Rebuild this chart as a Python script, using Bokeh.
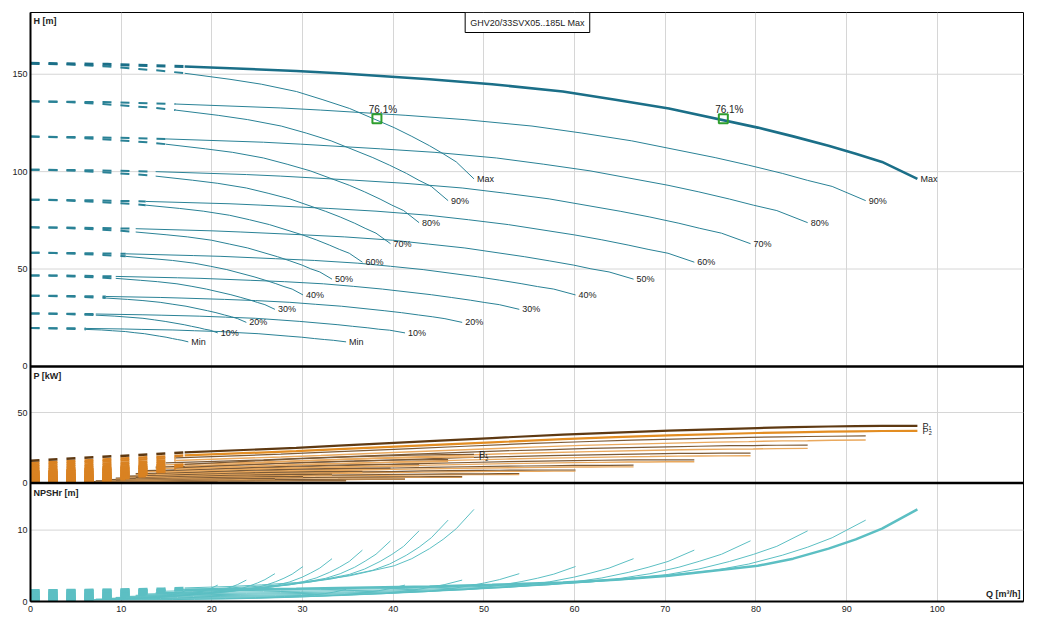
from bokeh.plotting import figure
from bokeh.models import (Range1d, FixedTicker, CustomJSTickFormatter, Span, Label,
                          ColumnDataSource)
from bokeh.core.properties import value
from bokeh.embed import file_html
from bokeh.resources import INLINE

# ---------------- data ----------------
LEVELS = ["Max", "90%", "80%", "70%", "60%", "50%", "40%", "30%", "20%", "10%", "Min"]
TITLE = "GHV20/33SVX05..185L Max"

# flow where the solid (allowed) part of each curve starts
Q_MIN = [17.0, 16.0, 14.9, 13.8, 12.7, 11.6, 10.5, 9.4, 8.3, 7.2, 6.1]

# flow points [m3/h], two pumps running
Q_TWO = [
    [0, 8.5, 17.0, 29.3, 34.0, 44.0, 50.9, 58.7, 64.5, 70.4, 80.2, 84.1, 88.0, 91.0, 93.9, 97.8],
    [0, 8.0, 16.0, 27.6, 32.0, 41.4, 47.9, 55.3, 60.8, 66.3, 75.5, 79.2, 82.9, 85.7, 88.4, 92.1],
    [0, 7.5, 14.9, 25.7, 29.8, 38.6, 44.6, 51.4, 56.6, 61.7, 70.3, 73.7, 77.1, 79.7, 82.3, 85.7],
    [0, 6.9, 13.8, 23.8, 27.6, 35.7, 41.3, 47.6, 52.4, 57.2, 65.1, 68.3, 71.5, 73.8, 76.2, 79.4],
    [0, 6.4, 12.7, 22.0, 25.4, 32.9, 38.1, 43.9, 48.3, 52.7, 60.0, 63.0, 65.9, 68.1, 70.3, 73.2],
    [0, 5.8, 11.6, 20.0, 23.2, 29.9, 34.6, 39.9, 43.9, 47.9, 54.5, 57.2, 59.9, 61.8, 63.8, 66.5],
    [0, 5.2, 10.5, 18.0, 21.0, 27.0, 31.3, 36.1, 39.7, 43.3, 49.3, 51.7, 54.1, 55.9, 57.7, 60.1],
    [0, 4.7, 9.4, 16.2, 18.8, 24.3, 28.0, 32.3, 35.6, 38.8, 44.2, 46.4, 48.5, 50.1, 51.7, 53.9],
    [0, 4.1, 8.3, 14.3, 16.6, 21.4, 24.8, 28.6, 31.4, 34.3, 39.0, 40.9, 42.8, 44.3, 45.7, 47.6],
    [0, 3.6, 7.2, 12.4, 14.4, 18.6, 21.5, 24.8, 27.3, 29.7, 33.9, 35.5, 37.2, 38.4, 39.6, 41.3],
    [0, 3.0, 6.1, 10.4, 12.2, 15.7, 18.1, 20.9, 23.0, 25.1, 28.5, 29.9, 31.3, 32.4, 33.4, 34.8],
]
# flow points [m3/h], one pump running
Q_ONE = [
    [0, 4.25, 8.5, 14.65, 17.0, 22.0, 25.45, 29.35, 32.25, 35.2, 40.1, 42.05, 44.0, 45.5, 46.95, 48.9],
    [0, 4.0, 8.0, 13.8, 16.0, 20.7, 23.95, 27.65, 30.4, 33.15, 37.75, 39.6, 41.45, 42.85, 44.2, 46.05],
    [0, 3.75, 7.45, 12.85, 14.9, 19.3, 22.3, 25.7, 28.3, 30.85, 35.15, 36.85, 38.55, 39.85, 41.15, 42.85],
    [0, 3.45, 6.9, 11.9, 13.8, 17.85, 20.65, 23.8, 26.2, 28.6, 32.55, 34.15, 35.75, 36.9, 38.1, 39.7],
    [0, 3.2, 6.35, 11.0, 12.7, 16.45, 19.05, 21.95, 24.15, 26.35, 30.0, 31.5, 32.95, 34.05, 35.15, 36.6],
    [0, 2.9, 5.8, 10.0, 11.6, 14.95, 17.3, 19.95, 21.95, 23.95, 27.25, 28.6, 29.95, 30.9, 31.9, 33.25],
    [0, 2.6, 5.25, 9.0, 10.5, 13.5, 15.65, 18.05, 19.85, 21.65, 24.65, 25.85, 27.05, 27.95, 28.85, 30.05],
    [0, 2.35, 4.7, 8.1, 9.4, 12.15, 14.0, 16.15, 17.8, 19.4, 22.1, 23.2, 24.25, 25.05, 25.85, 26.95],
    [0, 2.05, 4.15, 7.15, 8.3, 10.7, 12.4, 14.3, 15.7, 17.15, 19.5, 20.45, 21.4, 22.15, 22.85, 23.8],
    [0, 1.8, 3.6, 6.2, 7.2, 9.3, 10.75, 12.4, 13.65, 14.85, 16.95, 17.75, 18.6, 19.2, 19.8, 20.65],
    [0, 1.5, 3.05, 5.2, 6.1, 7.85, 9.05, 10.45, 11.5, 12.55, 14.25, 14.95, 15.65, 16.2, 16.7, 17.4],
]
# head [m]
H_CURVES = [
    [155.6, 155.1, 154.0, 151.7, 150.5, 147.4, 144.9, 141.1, 136.9, 132.4, 122.6, 118.1, 113.3, 109.2, 105.0, 96.3],
    [136.1, 135.7, 134.7, 132.7, 131.6, 128.9, 126.7, 123.4, 119.8, 115.8, 107.2, 103.3, 99.1, 95.5, 92.4, 85.1],
    [118.0, 117.6, 116.8, 115.1, 114.1, 111.7, 109.9, 107.0, 103.8, 100.4, 93.0, 89.6, 85.9, 82.8, 80.0, 73.8],
    [101.0, 100.7, 100.0, 98.5, 97.7, 95.6, 94.0, 91.6, 88.9, 86.0, 79.6, 76.7, 73.5, 70.9, 68.4, 63.0],
    [85.6, 85.3, 84.7, 83.5, 82.8, 81.1, 79.7, 77.6, 75.3, 72.8, 67.5, 65.0, 62.3, 60.1, 58.1, 53.5],
    [71.4, 71.2, 70.7, 69.6, 69.0, 67.6, 66.5, 64.8, 62.8, 60.8, 56.3, 54.2, 52.0, 50.1, 48.5, 44.8],
    [58.4, 58.2, 57.8, 56.9, 56.5, 55.3, 54.4, 53.0, 51.4, 49.7, 46.0, 44.3, 42.5, 41.0, 39.7, 36.7],
    [46.7, 46.6, 46.2, 45.5, 45.2, 44.2, 43.5, 42.4, 41.1, 39.7, 36.8, 35.4, 34.0, 32.8, 31.7, 29.3],
    [36.3, 36.2, 35.9, 35.4, 35.1, 34.4, 33.8, 32.9, 31.9, 30.9, 28.6, 27.6, 26.4, 25.5, 24.5, 22.6],
    [27.2, 27.1, 26.9, 26.5, 26.3, 25.8, 25.3, 24.7, 23.9, 23.1, 21.4, 20.6, 19.8, 19.1, 18.6, 17.2],
    [19.7, 19.6, 19.5, 19.2, 19.0, 18.7, 18.3, 17.9, 17.3, 16.8, 15.5, 15.0, 14.3, 13.8, 13.4, 12.6],
]
# NPSHr [m]
NPSH_CURVES = [
    [1.55, 1.60, 1.65, 1.80, 1.90, 2.10, 2.33, 2.65, 3.05, 3.60, 5.00, 6.00, 7.40, 8.70, 10.20, 12.90],
    [1.36, 1.40, 1.44, 1.58, 1.66, 1.84, 2.04, 2.32, 2.67, 3.15, 4.38, 5.25, 6.48, 7.61, 8.93, 11.4],
    [1.17, 1.21, 1.25, 1.36, 1.44, 1.59, 1.77, 2.01, 2.31, 2.73, 3.79, 4.55, 5.61, 6.59, 7.73, 9.9],
    [1.01, 1.04, 1.07, 1.17, 1.23, 1.36, 1.51, 1.72, 1.98, 2.34, 3.25, 3.89, 4.80, 5.65, 6.62, 8.5],
    [0.85, 0.88, 0.91, 0.99, 1.05, 1.16, 1.28, 1.46, 1.68, 1.98, 2.75, 3.30, 4.07, 4.79, 5.61, 7.2],
    [0.71, 0.73, 0.76, 0.83, 0.87, 0.96, 1.07, 1.22, 1.40, 1.65, 2.30, 2.75, 3.40, 3.99, 4.68, 6.0],
    [0.58, 0.60, 0.62, 0.68, 0.71, 0.79, 0.87, 0.99, 1.14, 1.35, 1.88, 2.25, 2.78, 3.26, 3.83, 4.9],
    [0.47, 0.48, 0.50, 0.54, 0.57, 0.63, 0.70, 0.80, 0.92, 1.08, 1.50, 1.80, 2.22, 2.61, 3.06, 3.9],
    [0.36, 0.37, 0.38, 0.42, 0.44, 0.49, 0.54, 0.62, 0.71, 0.84, 1.17, 1.40, 1.72, 2.03, 2.38, 3.0],
    [0.27, 0.28, 0.29, 0.32, 0.33, 0.37, 0.41, 0.46, 0.53, 0.63, 0.88, 1.05, 1.30, 1.52, 1.79, 2.3],
    [0.20, 0.20, 0.21, 0.23, 0.24, 0.27, 0.30, 0.34, 0.39, 0.46, 0.64, 0.76, 0.94, 1.10, 1.30, 1.7],
]
# input power P1 / shaft power P2 [kW], two pumps
P1_TWO = [
    [15.8, 18.8, 21.7, 25.0, 26.5, 29.7, 31.9, 34.4, 35.8, 37.2, 39.0, 39.6, 40.1, 40.3, 40.5, 40.6],
    [12.9, 15.4, 17.8, 20.5, 21.7, 24.3, 26.1, 28.1, 29.3, 30.4, 31.9, 32.4, 32.8, 33.0, 33.2, 33.4],
    [10.4, 12.4, 14.3, 16.5, 17.5, 19.6, 21.1, 22.7, 23.6, 24.6, 25.7, 26.1, 26.5, 26.6, 26.8, 26.9],
    [8.3, 9.8, 11.3, 13.1, 13.9, 15.5, 16.7, 18.0, 18.7, 19.5, 20.4, 20.7, 21.0, 21.1, 21.2, 21.2],
    [6.4, 7.7, 8.9, 10.2, 10.8, 12.1, 13.0, 14.0, 14.6, 15.2, 15.9, 16.2, 16.4, 16.4, 16.5, 16.5],
    [4.9, 5.8, 6.7, 7.8, 8.2, 9.2, 9.9, 10.7, 11.1, 11.6, 12.1, 12.3, 12.5, 12.5, 12.6, 12.7],
    [3.6, 4.3, 5.0, 5.8, 6.1, 6.8, 7.3, 7.9, 8.2, 8.6, 9.0, 9.1, 9.2, 9.3, 9.3, 9.3],
    [2.6, 3.1, 3.6, 4.1, 4.3, 4.9, 5.2, 5.6, 5.9, 6.1, 6.4, 6.5, 6.6, 6.6, 6.7, 6.8],
    [1.8, 2.1, 2.5, 2.8, 3.0, 3.4, 3.6, 3.9, 4.0, 4.2, 4.4, 4.5, 4.5, 4.55, 4.6, 4.6],
    [1.2, 1.4, 1.6, 1.8, 1.9, 2.2, 2.3, 2.5, 2.6, 2.7, 2.8, 2.9, 2.9, 2.9, 2.9, 2.9],
    [0.7, 0.8, 1.0, 1.1, 1.2, 1.3, 1.4, 1.5, 1.6, 1.7, 1.8, 1.8, 1.8, 1.8, 1.8, 1.8],
]
P2_TWO = [
    [14.2, 16.9, 19.6, 22.6, 24.0, 26.9, 28.9, 31.2, 32.6, 33.8, 35.5, 36.0, 36.5, 36.7, 36.9, 37.0],
    [11.6, 13.8, 16.0, 18.5, 19.6, 22.0, 23.6, 25.5, 26.7, 27.6, 29.0, 29.4, 29.9, 30.0, 30.3, 30.5],
    [9.4, 11.2, 12.9, 14.9, 15.8, 17.8, 19.1, 20.6, 21.5, 22.3, 23.4, 23.8, 24.1, 24.2, 24.4, 24.6],
    [7.4, 8.8, 10.3, 11.8, 12.6, 14.1, 15.1, 16.3, 17.0, 17.7, 18.6, 18.8, 19.1, 19.2, 19.3, 19.4],
    [5.8, 6.9, 8.0, 9.2, 9.8, 11.0, 11.8, 12.7, 13.3, 13.8, 14.5, 14.7, 14.9, 15.0, 15.1, 15.1],
    [4.4, 5.3, 6.1, 7.0, 7.5, 8.4, 9.0, 9.7, 10.1, 10.5, 11.0, 11.2, 11.4, 11.4, 11.5, 11.5],
    [3.3, 3.9, 4.5, 5.2, 5.5, 6.2, 6.6, 7.2, 7.5, 7.8, 8.2, 8.3, 8.4, 8.4, 8.5, 8.5],
    [2.3, 2.8, 3.2, 3.7, 3.9, 4.4, 4.7, 5.1, 5.3, 5.5, 5.8, 5.9, 6.0, 6.0, 6.1, 6.1],
    [1.6, 1.9, 2.2, 2.6, 2.7, 3.0, 3.3, 3.5, 3.7, 3.8, 4.0, 4.1, 4.1, 4.15, 4.2, 4.2],
    [1.0, 1.2, 1.4, 1.6, 1.8, 2.0, 2.1, 2.3, 2.4, 2.5, 2.6, 2.6, 2.7, 2.7, 2.7, 2.7],
    [0.6, 0.8, 0.9, 1.0, 1.1, 1.2, 1.3, 1.4, 1.5, 1.5, 1.6, 1.6, 1.6, 1.65, 1.7, 1.7],
]
# input power P1 / shaft power P2 [kW], one pump
P1_ONE = [
    [7.9, 9.4, 10.85, 12.5, 13.25, 14.85, 15.95, 17.2, 17.9, 18.6, 19.5, 19.8, 20.05, 20.15, 20.25, 20.3],
    [6.45, 7.7, 8.9, 10.25, 10.85, 12.15, 13.05, 14.05, 14.65, 15.2, 15.95, 16.2, 16.4, 16.5, 16.6, 16.7],
    [5.2, 6.2, 7.15, 8.25, 8.75, 9.8, 10.55, 11.35, 11.8, 12.3, 12.85, 13.05, 13.25, 13.3, 13.4, 13.45],
    [4.15, 4.9, 5.65, 6.55, 6.95, 7.75, 8.35, 9.0, 9.35, 9.75, 10.2, 10.35, 10.5, 10.55, 10.6, 10.6],
    [3.2, 3.85, 4.45, 5.1, 5.4, 6.05, 6.5, 7.0, 7.3, 7.6, 7.95, 8.1, 8.2, 8.2, 8.25, 8.25],
    [2.45, 2.9, 3.35, 3.9, 4.1, 4.6, 4.95, 5.35, 5.55, 5.8, 6.05, 6.15, 6.25, 6.25, 6.3, 6.35],
    [1.8, 2.15, 2.5, 2.9, 3.05, 3.4, 3.65, 3.95, 4.1, 4.3, 4.5, 4.55, 4.6, 4.65, 4.65, 4.65],
    [1.3, 1.55, 1.8, 2.05, 2.15, 2.45, 2.6, 2.8, 2.95, 3.05, 3.2, 3.25, 3.3, 3.3, 3.35, 3.4],
    [0.9, 1.05, 1.25, 1.4, 1.5, 1.7, 1.8, 1.95, 2.0, 2.1, 2.2, 2.25, 2.25, 2.3, 2.3, 2.3],
    [0.6, 0.7, 0.8, 0.9, 0.95, 1.1, 1.15, 1.25, 1.3, 1.35, 1.4, 1.45, 1.45, 1.45, 1.45, 1.45],
    [0.35, 0.4, 0.5, 0.55, 0.6, 0.65, 0.7, 0.75, 0.8, 0.85, 0.9, 0.9, 0.9, 0.9, 0.9, 0.9],
]
P2_ONE = [
    [7.1, 8.45, 9.8, 11.3, 12.0, 13.45, 14.45, 15.6, 16.3, 16.9, 17.75, 18.0, 18.25, 18.35, 18.45, 18.5],
    [5.8, 6.9, 8.0, 9.25, 9.8, 11.0, 11.8, 12.75, 13.35, 13.8, 14.5, 14.7, 14.95, 15.0, 15.15, 15.25],
    [4.7, 5.6, 6.45, 7.45, 7.9, 8.9, 9.55, 10.3, 10.75, 11.15, 11.7, 11.9, 12.05, 12.1, 12.2, 12.3],
    [3.7, 4.4, 5.15, 5.9, 6.3, 7.05, 7.55, 8.15, 8.5, 8.85, 9.3, 9.4, 9.55, 9.6, 9.65, 9.7],
    [2.9, 3.45, 4.0, 4.6, 4.9, 5.5, 5.9, 6.35, 6.65, 6.9, 7.25, 7.35, 7.45, 7.5, 7.55, 7.55],
    [2.2, 2.65, 3.05, 3.5, 3.75, 4.2, 4.5, 4.85, 5.05, 5.25, 5.5, 5.6, 5.7, 5.7, 5.75, 5.75],
    [1.65, 1.95, 2.25, 2.6, 2.75, 3.1, 3.3, 3.6, 3.75, 3.9, 4.1, 4.15, 4.2, 4.2, 4.25, 4.25],
    [1.15, 1.4, 1.6, 1.85, 1.95, 2.2, 2.35, 2.55, 2.65, 2.75, 2.9, 2.95, 3.0, 3.0, 3.05, 3.05],
    [0.8, 0.95, 1.1, 1.3, 1.35, 1.5, 1.65, 1.75, 1.85, 1.9, 2.0, 2.05, 2.05, 2.1, 2.1, 2.1],
    [0.5, 0.6, 0.7, 0.8, 0.9, 1.0, 1.05, 1.15, 1.2, 1.25, 1.3, 1.3, 1.35, 1.35, 1.35, 1.35],
    [0.3, 0.4, 0.45, 0.5, 0.55, 0.6, 0.65, 0.7, 0.75, 0.75, 0.8, 0.8, 0.8, 0.8, 0.85, 0.85],
]
DUTY_Q = [38.2, 76.4]
DUTY_H = [127.1, 127.1]
DUTY_LABEL = ["76.1%", "76.1%"]

X_TICKS = [0, 10, 20, 30, 40, 50, 60, 70, 80, 90, 100]
H_TICKS = [0, 50, 100, 150]
P_TICKS = [0, 50]
NPSH_TICKS = [0, 10]

# ---------------- styling ----------------
FONT = "Liberation Sans"
H_COL, H_MAX_COL = "#2a8296", "#1b6f88"
N_COL = "#5cbfc3"
P1_COL, P1_MAX_COL = "#7c5a36", "#5e3912"
P2_COL, P2_MAX_COL = "#eaa95e", "#e38d22"
P_DASH_COL = "#d98222"
TXT = "#222222"
GRID = "#d6d6d6"

X_RANGE = Range1d(0, 109.5)
H_RANGE = Range1d(-120.7, 181.7)
P_RANGE = Range1d(-83.85, 333.3)
N_RANGE = Range1d(0, 82.5)

p = figure(frame_width=993, frame_height=589, x_range=X_RANGE, y_range=H_RANGE,
           output_backend="svg", toolbar_location=None,
           min_border_left=30, min_border_right=8, min_border_top=12, min_border_bottom=16,
           background_fill_color="white", border_fill_color="white")
p.extra_y_ranges = {"p": P_RANGE, "npsh": N_RANGE}
p.outline_line_color = "black"
p.outline_line_width = 1
p.ygrid.visible = False
p.xgrid.ticker = FixedTicker(ticks=X_TICKS)
p.xgrid.grid_line_color = GRID
p.xgrid.grid_line_width = 1


def to_h(v, rng):
    return H_RANGE.start + (v - rng.start) / (rng.end - rng.start) * (H_RANGE.end - H_RANGE.start)


def from_h(h, rng):
    return rng.start + (h - H_RANGE.start) / (H_RANGE.end - H_RANGE.start) * (rng.end - rng.start)


tick_pos = ([float(t) for t in H_TICKS] + [to_h(t, P_RANGE) for t in P_TICKS]
            + [to_h(t, N_RANGE) for t in NPSH_TICKS])
tick_lab = [str(t) for t in H_TICKS] + [str(t) for t in P_TICKS] + [str(t) for t in NPSH_TICKS]

ya = p.yaxis[0]
ya.ticker = FixedTicker(ticks=tick_pos)
ya.formatter = CustomJSTickFormatter(args=dict(pos=tick_pos, labs=tick_lab), code="""
    for (let i = 0; i < pos.length; i++) { if (Math.abs(pos[i] - tick) < 1e-6) return labs[i]; }
    return "";
""")
for ax in (ya, p.xaxis[0]):
    ax.axis_line_color = "black"
    ax.axis_line_width = 2
    ax.major_tick_out = 0
    ax.major_tick_in = 0
    ax.minor_tick_out = 0
    ax.minor_tick_in = 0
    ax.major_label_text_font = FONT
    ax.major_label_text_font_size = "9px"
    ax.major_label_text_color = TXT
ya.major_label_standoff = 3
xa = p.xaxis[0]
xa.ticker = FixedTicker(ticks=X_TICKS)
xa.major_label_standoff = 4

# horizontal grid lines per panel
for t in H_TICKS[1:]:
    p.add_layout(Span(location=t, dimension="width", line_color=GRID, line_width=1, level="underlay"))
for t in P_TICKS[1:]:
    p.add_layout(Span(location=t, dimension="width", line_color=GRID, line_width=1, level="underlay",
                      y_range_name="p"))
for t in NPSH_TICKS[1:]:
    p.add_layout(Span(location=t, dimension="width", line_color=GRID, line_width=1, level="underlay",
                      y_range_name="npsh"))


def split(qs, ys, qmin):
    n = max(i for i, q in enumerate(qs) if q <= qmin + 1e-9)
    return (qs[:n + 1], ys[:n + 1]), (qs[n:], ys[n:])


def draw(qs, ys, qmin, color, width, dash_color, dash_width, rng=None):
    (dq, dy), (sq, sy) = split(qs, ys, qmin)
    kw = {} if rng is None else {"y_range_name": rng}
    p.line(dq, dy, line_color=dash_color, line_width=dash_width, line_dash="9 9", **kw)
    p.line(sq, sy, line_color=color, line_width=width, **kw)


# lower levels first so "Max" sits on top
for k in reversed(range(len(LEVELS))):
    is_max = k == 0
    for qs, two in ((Q_ONE[k], False), (Q_TWO[k], True)):
        thick = is_max and two
        p1 = P1_TWO[k] if two else P1_ONE[k]
        p2 = P2_TWO[k] if two else P2_ONE[k]
        draw(qs, p2, Q_MIN[k], P2_MAX_COL if thick else P2_COL, 2.2 if thick else 1.4,
             P_DASH_COL, 2.5, "p")
        draw(qs, p1, Q_MIN[k], P1_MAX_COL if thick else P1_COL, 2.2 if thick else 1.2,
             P1_MAX_COL if thick else P_DASH_COL, 2.5, "p")
        draw(qs, NPSH_CURVES[k], Q_MIN[k], N_COL, 2.5 if thick else 1, N_COL, 2.5, "npsh")
        draw(qs, H_CURVES[k], Q_MIN[k], H_MAX_COL if thick else H_COL, 2.6 if thick else 1,
             H_MAX_COL if thick else H_COL, 3 if thick else 2)

# panel separators
p.add_layout(Span(location=0, dimension="width", line_color="black", line_width=2.5))
p.add_layout(Span(location=0, dimension="width", line_color="black", line_width=2.5, y_range_name="p"))

# curve end labels
lab_src = ColumnDataSource(dict(
    x=[q[-1] for q in Q_TWO] + [q[-1] for q in Q_ONE],
    y=[h[-1] for h in H_CURVES] * 2,
    t=LEVELS * 2,
))
p.text(x="x", y="y", text="t", source=lab_src, x_offset=3, text_baseline="middle",
       text_font=value(FONT), text_font_size="9px", text_color=TXT)

pw_src = ColumnDataSource(dict(
    x=[Q_TWO[0][-1], Q_TWO[0][-1], Q_ONE[0][-1], Q_ONE[0][-1]],
    y=[P1_TWO[0][-1], P2_TWO[0][-1], P1_ONE[0][-1], P2_ONE[0][-1]],
    t=["P\u2081", "P\u2082", "P\u2081", "P\u2082"],
))
p.text(x="x", y="y", text="t", source=pw_src, x_offset=5, text_baseline="middle", y_range_name="p",
       text_font=value(FONT), text_font_size="9px", text_color=TXT)

# duty points
p.scatter(DUTY_Q, DUTY_H, marker="square", size=9, fill_color=None, line_color="#2e9e2e", line_width=2)
p.text(x=DUTY_Q, y=DUTY_H, text=DUTY_LABEL, x_offset=6, y_offset=-9, text_align="center",
       text_baseline="alphabetic", text_font=value(FONT), text_font_size="10px", text_color=TXT)

# titles
p.add_layout(Label(x=54.8, y=H_RANGE.end, text=TITLE, text_align="center", text_baseline="top",
                   y_offset=0, padding=5, border_line_color="black", border_line_width=1,
                   background_fill_color="white", text_font=FONT, text_font_size="9px",
                   text_color=TXT))
bold = dict(text_font=FONT, text_font_size="9px", text_font_style="bold", text_color=TXT)
p.add_layout(Label(x=0, y=H_RANGE.end, x_offset=3, y_offset=-3, text="H [m]", text_baseline="top", **bold))
p.add_layout(Label(x=0, y=from_h(0, P_RANGE), x_offset=3, y_offset=-5, text="P [kW]", text_baseline="top",
                   y_range_name="p", **bold))
p.add_layout(Label(x=0, y=from_h(to_h(0, P_RANGE), N_RANGE), x_offset=3, y_offset=-5, text="NPSHr [m]",
                   text_baseline="top", y_range_name="npsh", **bold))
p.add_layout(Label(x=X_RANGE.end, y=0, x_offset=-3, y_offset=3, text="Q [m\u00b3/h]", text_align="right",
                   text_baseline="bottom", y_range_name="npsh", **bold))

open("out.html", "w").write(file_html(p, INLINE))
